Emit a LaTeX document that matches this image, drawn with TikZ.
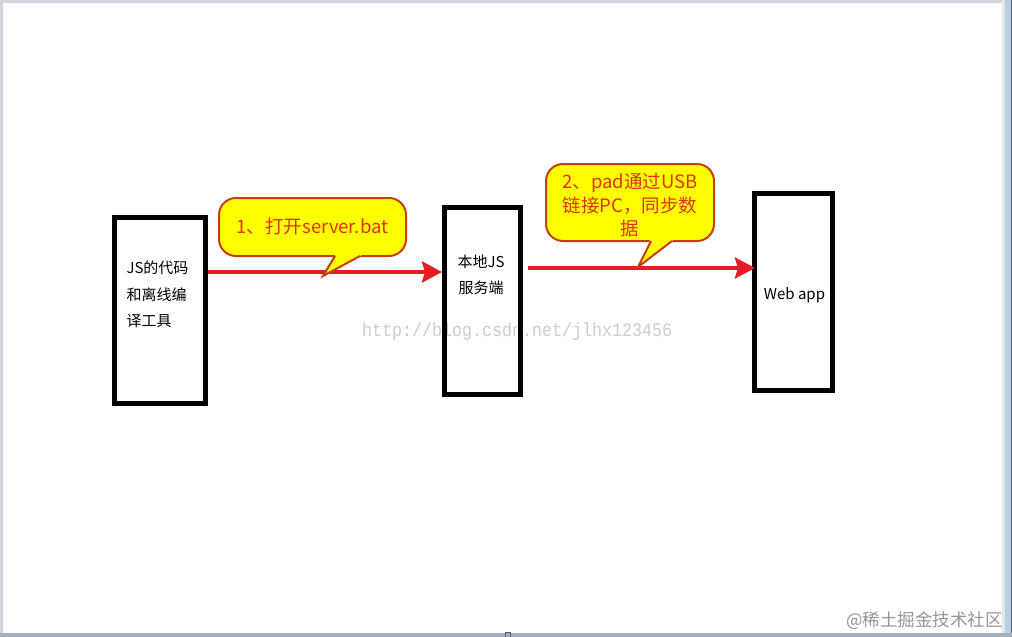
\documentclass[tikz,border=0pt]{standalone}
\usepackage{fontspec}
\setmainfont{Noto Sans CJK SC}
\newfontfamily\wmfont{Liberation Mono}
\usetikzlibrary{arrows.meta}
\definecolor{arrred}{RGB}{230,28,36}
\definecolor{bubfill}{RGB}{255,255,0}
\definecolor{bubline}{RGB}{196,64,20}
\definecolor{bubtextc}{RGB}{222,52,24}
\definecolor{wmgray}{RGB}{205,205,205}
\definecolor{jjgray}{RGB}{150,150,150}
\definecolor{edgegray}{RGB}{210,214,220}
\definecolor{edgeblue}{RGB}{182,206,230}
\definecolor{edgedark}{RGB}{80,96,112}
\definecolor{bottomgray}{RGB}{166,176,188}
\begin{document}
\begin{tikzpicture}[x=1pt,y=-1pt,
  jsbox/.style={draw=black, line width=5pt, inner sep=0pt, fill=none},
  boxtext/.style={inner sep=0pt, font=\fontsize{15}{26.5}\selectfont, text=black},
  bubble/.style={draw=bubline, fill=bubfill, line width=2pt, rounded corners=17pt, inner sep=0pt},
  bubtext/.style={inner sep=0pt, text=bubtextc, font=\fontsize{18.5}{23.5}\selectfont, align=center},
  redarrow/.style={draw=arrred, line width=4pt, -{Stealth[length=20pt,width=21pt,inset=3pt]}},
  tailline/.style={draw=bubline, line width=2pt, line join=miter}
]
\useasboundingbox (0,0) rectangle (1012,637);
\fill[white] (0,0) rectangle (1012,637);
% window edges
\fill[edgegray] (0,0) rectangle (1012,2.5);
\fill[edgegray] (0,0) rectangle (2.5,637);
\fill[edgegray!60] (1002,0) rectangle (1005,637);
\fill[edgeblue] (1005,0) rectangle (1011,637);
\fill[edgedark] (1011,0) rectangle (1012,637);
\fill[bottomgray] (0,633) rectangle (1012,637);
\draw[edgedark, line width=1pt] (505,637) -- (505,632.5) -- (510,632.5) -- (510,637);

% watermark
\node[anchor=base west, inner sep=0pt, text=wmgray, font=\wmfont\fontsize{19}{19}\selectfont] (wm) at (362,336) {\scalebox{0.877}[1]{http://blog.csdn.net/jlhx123456}};

% boxes
\node[jsbox, minimum width=90.5pt, minimum height=185.5pt] (b1) at (159.75,310.25) {};
\node[jsbox, minimum width=76pt, minimum height=187pt] (b2) at (482.5,301) {};
\node[jsbox, minimum width=78pt, minimum height=197pt] (b3) at (793.5,292) {};

\node[boxtext, align=left] (t1) at (157.5,294.5) {JS的代码\\和离线编\\译工具};
\node[boxtext, align=center] (t2) at (481,275) {本地JS\\服务端};
\node[boxtext] (t3) at (794.5,295) {Web app};

% arrows
\coordinate (y1) at (0,272);
\coordinate (y2) at (0,268);
\draw[redarrow] (b1.east |- y1) -- (b2.west |- y1);
\draw[redarrow, shorten >=-3pt] ([xshift=5pt]b2.east |- y2) -- (b3.west |- y2);

% callout 1
\node[bubble, minimum width=187pt, minimum height=58pt] (c1) at (312.5,227) {};
\fill[bubfill] (336.2,254) -- (323,276) -- (363.7,254) -- cycle;
\draw[tailline] (335,256) -- (323,276) -- (360,256);
\node[bubtext] (ct1) at (312.5,227) {1、打开server.bat};

% callout 2
\node[bubble, minimum width=168pt, minimum height=77pt] (c2) at (630,202.5) {};
\fill[bubfill] (650.5,239) -- (638,267) -- (674.5,239) -- cycle;
\draw[tailline] (651,241) -- (638,267) -- (672,241);
\node[bubtext] (ct2) at (630,205.5) {2、pad通过USB\\链接PC，同步数\\据};

% site mark
\node[anchor=base east, inner sep=0pt, text=jjgray, font=\fontsize{17.5}{17.5}\selectfont] (jj) at (1003,626.5) {@稀土掘金技术社区};
\end{tikzpicture}
\end{document}
